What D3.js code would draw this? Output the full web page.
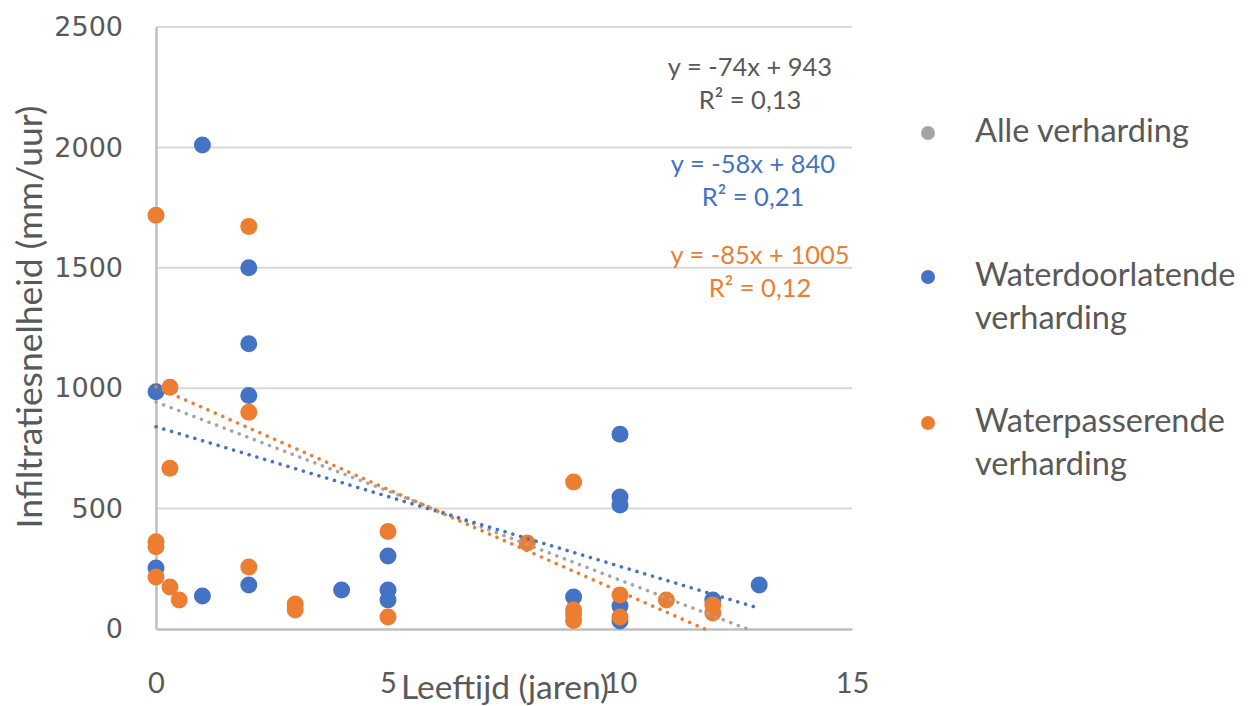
<!DOCTYPE html>
<html>
<head>
<meta charset="utf-8">
<script src="https://cdn.jsdelivr.net/npm/d3@7"></script>
<style>
  body { margin: 0; background: #fff; }
  svg { display: block; }
</style>
</head>
<body>
<svg id="chart" width="1252" height="706"></svg>
<script>
// ---- data ----
const seriesNames = ["Alle verharding", "Waterdoorlatende verharding", "Waterpasserende verharding"];
const seriesColors = ["#A5A5A5", "#4472C4", "#ED7D31"];

const blueX = [1, 2, 2, 2, 0, 0, 1, 2, 4, 5, 5, 5, 9, 10, 10, 10, 10, 10, 12, 13];
const blueY = [2010, 1500, 1185, 970, 985, 253, 137, 183, 162, 303, 162, 120, 133, 809, 548, 515, 95, 33, 120, 183];

const orangeX = [0, 2, 0.3, 2, 0.3, 0, 0, 0, 0.3, 0.5, 2, 3, 3, 5, 5, 8, 9, 9, 9, 9, 10, 10, 11, 12, 12];
const orangeY = [1718, 1672, 1004, 900, 668, 362, 342, 216, 174, 120, 257, 104, 79, 405, 50, 357, 610, 80, 58, 35, 141, 50, 120, 100, 66];

// trendlines: slope, intercept, x-range of fitted data
const trendSlope = [-74, -58, -85];
const trendIntercept = [943, 840, 1005];
const trendXMin = [0, 0, 0];
const trendXMax = [13, 13, 12];
const trendEq = ["y = -74x + 943", "y = -58x + 840", "y = -85x + 1005"];
const trendR2 = ["R² = 0,13", "R² = 0,21", "R² = 0,12"];
const eqColors = ["#595959", "#4472C4", "#ED7D31"];

const xTicks = [0, 5, 10, 15];
const yTicks = [0, 500, 1000, 1500, 2000, 2500];
const xTitle = "Leeftijd (jaren)";
const yTitle = "Infiltratiesnelheid (mm/uur)";

// ---- layout ----
const svg = d3.select("#chart");
const x = d3.scaleLinear().domain([0, 15]).range([156, 852]);
const y = d3.scaleLinear().domain([0, 2500]).range([629, 27]);
const textGray = "#595959";
const gridColor = "#D9D9D9";
const sansFont = "Lato, 'Open Sans', sans-serif";

// scale a text's font size so that it spans a given width
function fitWidth(sel, target) {
  const node = sel.node();
  const fs = parseFloat(sel.style("font-size"));
  const w = node.getComputedTextLength();
  if (w > 0) sel.style("font-size", (fs * target / w).toFixed(2) + "px");
  return sel;
}

// gridlines
svg.append("g").selectAll("line").data(yTicks.filter(d => d > 0)).join("line")
  .attr("x1", x(0)).attr("x2", x(15))
  .attr("y1", d => y(d)).attr("y2", d => y(d))
  .attr("stroke", gridColor).attr("stroke-width", 2);

// axes
const yAxis = d3.axisLeft(y).tickValues(yTicks).tickSize(0).tickPadding(33).tickFormat(d3.format("d"));
const gy = svg.append("g").attr("transform", `translate(${x(0)},0)`).call(yAxis);
gy.select(".domain").attr("stroke", "#BFBFBF").attr("stroke-width", 2.5);
gy.selectAll("text").attr("fill", textGray).style("font-family", "'DejaVu Sans', sans-serif").style("font-size", "27px");

const xAxis = d3.axisBottom(x).tickValues(xTicks).tickSize(0).tickPadding(43).tickFormat(d3.format("d"));
const gx = svg.append("g").attr("transform", `translate(0,${y(0)})`).call(xAxis);
gx.select(".domain").attr("stroke", "#BFBFBF").attr("stroke-width", 2.5);
gx.selectAll("text").attr("fill", textGray).style("font-family", sansFont).style("font-size", "29px");

// axis titles
const xt = svg.append("text").attr("x", 505).attr("y", 699).attr("text-anchor", "middle")
  .attr("fill", textGray).style("font-family", sansFont).style("font-size", "32px").text(xTitle);
fitWidth(xt, 208);
const yt = svg.append("text").attr("transform", "translate(42,317) rotate(-90)").attr("text-anchor", "middle")
  .attr("fill", textGray).style("font-family", sansFont).style("font-size", "25px").text(yTitle);
fitWidth(yt, 423);

// points
const blue = blueX.map((d, i) => ({ x: d, y: blueY[i] }));
const orange = orangeX.map((d, i) => ({ x: d, y: orangeY[i] }));
svg.append("g").selectAll("circle").data(blue).join("circle")
  .attr("cx", d => x(d.x)).attr("cy", d => y(d.y)).attr("r", 8.5).attr("fill", seriesColors[1]);
svg.append("g").selectAll("circle").data(orange).join("circle")
  .attr("cx", d => x(d.x)).attr("cy", d => y(d.y)).attr("r", 8.5).attr("fill", seriesColors[2]);

// trendlines (clipped at y = 0)
[0, 1, 2].forEach(i => {
  const m = trendSlope[i], b = trendIntercept[i];
  let x1 = trendXMax[i];
  if (m * x1 + b < 0) x1 = -b / m;
  svg.append("line")
    .attr("x1", x(trendXMin[i])).attr("y1", y(m * trendXMin[i] + b))
    .attr("x2", x(x1)).attr("y2", y(m * x1 + b))
    .attr("stroke", seriesColors[i]).attr("stroke-width", 3.5)
    .attr("stroke-linecap", "round").attr("stroke-dasharray", "0.1 8");
});

// equations
const eqX = [750, 753, 760];
const eqY = [76, 173, 264];
[0, 1, 2].forEach(i => {
  svg.append("text").attr("x", eqX[i]).attr("y", eqY[i]).attr("text-anchor", "middle")
    .attr("fill", eqColors[i]).style("font-family", sansFont).style("font-size", "25.5px").text(trendEq[i]);
  svg.append("text").attr("x", eqX[i]).attr("y", eqY[i] + 33).attr("text-anchor", "middle")
    .attr("fill", eqColors[i]).style("font-family", sansFont).style("font-size", "25.5px").text(trendR2[i]);
});

// legend
const legendY = [133, 277, 423];
const legendLines = [["Alle verharding"], ["Waterdoorlatende", "verharding"], ["Waterpasserende", "verharding"]];
const lg = svg.append("g");
[0, 1, 2].forEach(i => {
  lg.append("circle").attr("cx", 928).attr("cy", legendY[i]).attr("r", 7).attr("fill", seriesColors[i]);
  legendLines[i].forEach((t, j) => {
    lg.append("text").attr("x", 975).attr("y", legendY[i] + 9 + j * 43)
      .attr("fill", textGray).style("font-family", sansFont).style("font-size", "32.5px").text(t);
  });
});
</script>
</body>
</html>
